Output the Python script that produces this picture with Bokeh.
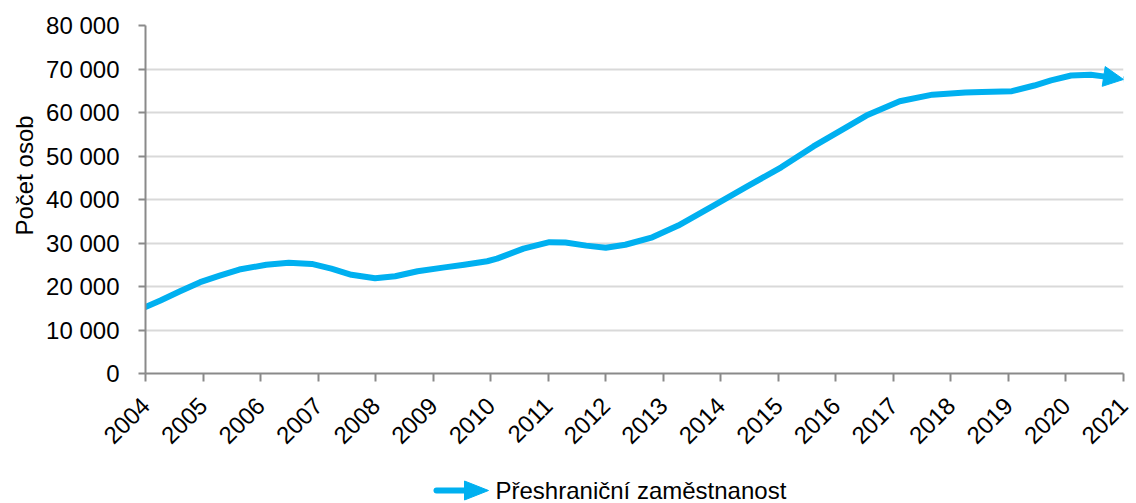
import math
from bokeh.plotting import figure
from bokeh.layouts import column
from bokeh.models import FixedTicker, CustomJSTickFormatter, Arrow, NormalHead, Title
from bokeh.core.properties import value
from bokeh.embed import file_html
from bokeh.resources import INLINE

# ---- data ----
years = [2004.00, 2004.26, 2004.60, 2004.95, 2005.29, 2005.63, 2006.10, 2006.49,
         2006.89, 2007.23, 2007.58, 2007.99, 2008.34, 2008.73, 2009.20, 2009.54,
         2009.94, 2010.11, 2010.57, 2011.02, 2011.30, 2011.66, 2012.00, 2012.34,
         2012.81, 2013.26, 2013.89, 2014.46, 2015.05, 2015.61, 2016.18, 2016.53,
         2017.11, 2017.68, 2018.25, 2018.54, 2019.06, 2019.45, 2019.74, 2020.09,
         2020.43, 2020.65, 2021.00]
persons = [15300, 16800, 18900, 21000, 22500, 23900, 25000, 25450,
           25200, 24100, 22700, 21900, 22350, 23500, 24400, 25000,
           25800, 26400, 28700, 30200, 30100, 29400, 28900, 29600,
           31300, 34000, 38700, 43000, 47400, 52200, 56600, 59300,
           62600, 64100, 64600, 64700, 64900, 66200, 67400, 68500,
           68700, 68300, 67600]
year_ticks = list(range(2004, 2022))
y_ticks = list(range(0, 80001, 10000))
series_name = "Přeshraniční zaměstnanost"
y_title = "Počet osob"

BLUE = "#00B0F0"
GRAY = "#8a8a8a"
FONT = "Liberation Sans"
FS = "24px"

W = 1136
H_MAIN, H_LEG = 455, 48
FL, FR, FT = 145, 13, 25
FB = H_MAIN - FT - 348

p = figure(width=W, height=H_MAIN, x_range=(2004, 2021), y_range=(0, 80000),
           output_backend="svg", toolbar_location=None,
           min_border_left=FL, min_border_right=FR, min_border_top=FT,
           min_border_bottom=FB)
p.outline_line_color = None

# axes
p.xaxis.ticker = FixedTicker(ticks=year_ticks)
p.xaxis.major_label_orientation = math.pi / 4
p.yaxis.ticker = FixedTicker(ticks=y_ticks)
p.yaxis.formatter = CustomJSTickFormatter(
    code="return Math.round(tick).toString().replace(/\\B(?=(\\d{3})+(?!\\d))/g, ' ');")
for ax in (p.xaxis[0], p.yaxis[0]):
    ax.axis_line_color = GRAY
    ax.axis_line_width = 2
    ax.major_tick_line_color = GRAY
    ax.major_tick_line_width = 2
    ax.major_tick_in = 0
    ax.minor_tick_line_color = None
    ax.major_label_text_font = FONT
    ax.major_label_text_font_size = FS
    ax.major_label_text_color = "black"
p.xaxis.major_tick_out = 8
p.xaxis.major_label_standoff = 20
p.yaxis.major_tick_out = 7
p.yaxis.major_label_standoff = 19

p.xgrid.grid_line_color = None
p.ygrid.grid_line_color = "#d9d9d9"
p.ygrid.grid_line_width = 2

# y-axis title (anchored from the bottom of the frame, raised like the reference)
p.add_layout(Title(text=y_title, align="left", offset=138, standoff=12,
                   text_font=FONT, text_font_size=FS, text_font_style="normal",
                   text_color="black"), "left")

# series line (last segment drawn as an arrow)
p.line(years[:-1], persons[:-1], line_color=BLUE, line_width=6,
       line_join="round", line_cap="round")
p.add_layout(Arrow(x_start=years[-2], y_start=persons[-2],
                   x_end=years[-1], y_end=persons[-1],
                   line_color=BLUE, line_width=6,
                   end=NormalHead(size=20, fill_color=BLUE, line_color=BLUE, line_width=1)))

# ---- legend strip (frame aligned with main frame -> pixel mapping) ----
leg = figure(width=W, height=H_LEG, x_range=(FL, W - FR), y_range=(H_LEG, 0),
             output_backend="svg", toolbar_location=None,
             min_border=0, x_axis_type=None, y_axis_type=None)
leg.outline_line_color = None
leg.grid.grid_line_color = None
ly = 35  # vertical centre of legend row inside strip
leg.line([436, 468], [ly, ly], line_color=BLUE, line_width=6, line_cap="round")
leg.patch([464, 488, 464], [ly - 9.5, ly, ly + 9.5], fill_color=BLUE, line_color=BLUE)
leg.text(x=[495], y=[ly], text=[series_name], text_align="left", text_baseline="middle",
         text_font=value(FONT), text_font_size=FS, text_color="black")

open("out.html", "w").write(file_html(column(p, leg, spacing=0), INLINE))
